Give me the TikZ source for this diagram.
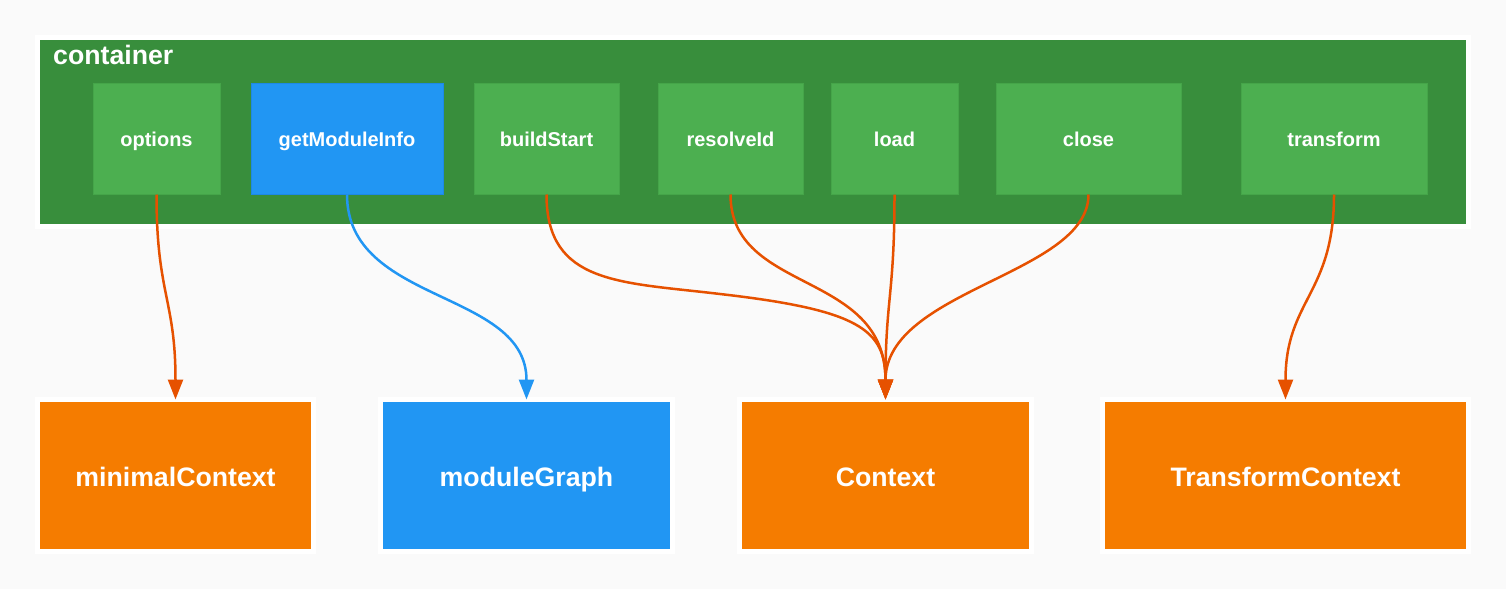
\documentclass[tikz,border=0pt]{standalone}
\usepackage{fontspec}
\setmainfont{Liberation Sans}
\usetikzlibrary{arrows.meta}
\definecolor{bg}{HTML}{FAFAFA}
\definecolor{contgreen}{HTML}{388E3C}
\definecolor{hookgreen}{HTML}{4CAF50}
\definecolor{hookborder}{HTML}{45A549}
\definecolor{infoblue}{HTML}{2196F3}
\definecolor{infoborder}{HTML}{1E88E5}
\definecolor{ctxorange}{HTML}{F57C00}
\definecolor{edgeorange}{HTML}{E65100}
\tikzset{
  hookbox/.style={rectangle, fill=hookgreen, draw=hookborder, line width=1pt, minimum height=111pt, inner sep=0pt, text height=17pt, text depth=2pt, text=white, font=\fontsize{20}{24}\selectfont\bfseries},
  infobox/.style={hookbox, fill=infoblue, draw=infoborder},
  ctxbox/.style={rectangle, fill=ctxorange, draw=white, line width=5pt, minimum height=152pt, inner sep=0pt, outer sep=0pt, text height=23pt, text depth=2pt, text=white, font=\fontsize{26.7}{30}\selectfont\bfseries},
  graphbox/.style={ctxbox, fill=infoblue},
  contbox/.style={rectangle, fill=contgreen, draw=white, line width=5pt, inner sep=0pt, outer sep=0pt},
  oedge/.style={draw=edgeorange, line width=2.5pt, -{Triangle[length=20pt,width=15pt]}},
  bedge/.style={oedge, draw=infoblue}
}
\begin{document}
\begin{tikzpicture}[x=1pt,y=-1pt]
\fill[bg] (0,0) rectangle (1506,589);
\useasboundingbox (0,0) rectangle (1506,589);
\node[contbox, minimum width=1431.5pt, minimum height=189.5pt] (container) at (752.75,131.75) {};
\node[anchor=base west, text=white, font=\fontsize{26.7}{30}\selectfont\bfseries, inner sep=0pt] (clabel) at (53,64) {container};
\node[hookbox, minimum width=127pt] (options) at (156.5,138.5) {options};
\node[infobox, minimum width=192pt] (getinfo) at (347,138.5) {getModuleInfo};
\node[hookbox, minimum width=145pt] (buildstart) at (546.5,138.5) {buildStart};
\node[hookbox, minimum width=145pt] (resolveid) at (730.5,138.5) {resolveId};
\node[hookbox, minimum width=127pt] (load) at (894.5,138.5) {load};
\node[hookbox, minimum width=185pt] (close) at (1088.5,138.5) {close};
\node[hookbox, minimum width=186pt] (transform) at (1334,138.5) {transform};
\node[ctxbox, minimum width=276pt] (minimal) at (175.5,475.5) {minimalContext};
\node[graphbox, minimum width=292pt] (graph) at (526.5,475.5) {moduleGraph};
\node[ctxbox, minimum width=292pt] (context) at (885.5,475.5) {Context};
\node[ctxbox, minimum width=366pt] (tctx) at (1285.5,475.5) {TransformContext};
\draw[oedge] (options.south) .. controls +(0,100) and +(0,-100) .. (minimal.north);
\draw[bedge] (getinfo.south) .. controls +(0,110) and +(0,-110) .. (graph.north);
\coordinate (bmid) at (720,294);
\draw[oedge] (buildstart.south) .. controls +(0,90) and (620,282) .. (bmid) .. controls (860,310) and (885.5,330) .. (context.north);
\draw[oedge] (resolveid.south) .. controls +(0,100) and +(0,-130) .. (context.north);
\draw[oedge] (load.south) .. controls +(0,100) and +(0,-100) .. (context.north);
\draw[oedge] (close.south) .. controls +(0,80) and +(0,-110) .. (context.north);
\draw[oedge] (transform.south) .. controls +(0,100) and +(0,-100) .. (tctx.north);
\end{tikzpicture}
\end{document}
